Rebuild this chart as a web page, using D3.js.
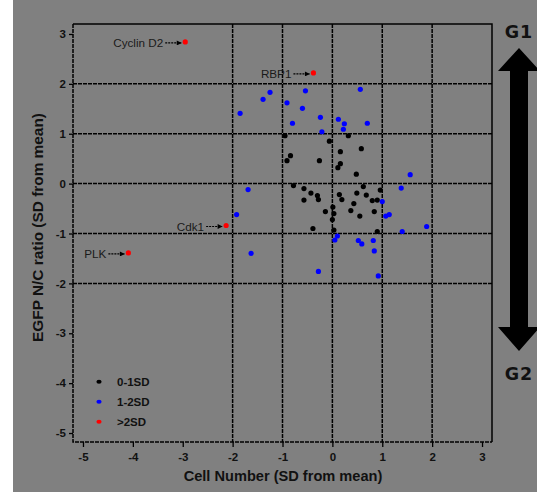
<!DOCTYPE html>
<html>
<head>
<meta charset="utf-8">
<script src="https://cdn.jsdelivr.net/npm/d3@7"></script>
<style>
  body { margin: 0; background: #fff; }
  svg { display: block; font-family: Arial, "Liberation Sans", sans-serif; }
</style>
</head>
<body>
<div id="cell-scatter"></div>
<script>

// data (SD from mean)
const blackX = [-0.95, -0.06, -0.84, -0.91, -0.26, 0.32, 0.58, 0.16, 0.16, 0.11, 0.48, -0.78, -0.57, -0.43, -0.30, -0.57, -0.28, -0.14, 0.01, 0.03, -0.39, 0.62, 0.14, 0.49, 0.68, 0.96, 0.19, 0.43, 0.80, 0.90, 0.37, 0.55, 0.84, 0.00, 0.03, 0.90]
const blackY = [0.96, 0.85, 0.56, 0.46, 0.46, 0.96, 0.70, 0.64, 0.40, 0.32, 0.19, -0.04, -0.10, -0.19, -0.24, -0.33, -0.32, -0.56, -0.47, -0.60, -0.90, -0.06, -0.22, -0.19, -0.23, -0.13, -0.32, -0.40, -0.34, -0.33, -0.54, -0.65, -0.56, -0.72, -0.93, -0.96]

const blueX = [-1.25, -1.39, -1.85, -0.54, -0.91, -0.60, -0.24, -0.80, -0.21, 0.56, 0.12, 0.24, 0.70, 0.22, 1.56, 1.38, -1.69, -1.92, -1.63, -0.28, 1.00, 1.07, 1.14, 1.89, 1.40, 0.10, 0.05, 0.52, 0.59, 0.82, 0.84, 0.92]
const blueY = [1.83, 1.69, 1.41, 1.86, 1.62, 1.51, 1.33, 1.21, 1.04, 1.89, 1.29, 1.20, 1.21, 1.09, 0.18, -0.09, -0.12, -0.62, -1.40, -1.76, -0.36, -0.65, -0.62, -0.86, -0.96, -1.05, -1.13, -1.14, -1.21, -1.14, -1.35, -1.85]

const redGenes = ["Cyclin D2", "RBP1", "Cdk1", "PLK"]
const redX = [-2.95, -0.38, -2.13, -4.09]
const redY = [2.84, 2.22, -0.84, -1.39]

const xTicks = [-5, -4, -3, -2, -1, 0, 1, 2, 3]
const yTicks = [-5, -4, -3, -2, -1, 0, 1, 2, 3]
const gridX = [-2, -1, 0, 1, 2]
const gridY = [-2, -1, 0, 1, 2]
const legendLabels = ["0-1SD", "1-2SD", ">2SD"]
const legendColors = ["#000000", "#0000ff", "#ff0000"]

function drawCellScatter() {

  // 1. accessors
  const xAccessor = d => d.x
  const yAccessor = d => d.y

  const blackDots = blackX.map((x, i) => ({ x: x, y: blackY[i] }))
  const blueDots = blueX.map((x, i) => ({ x: x, y: blueY[i] }))
  const redDots = redX.map((x, i) => ({ x: x, y: redY[i], name: redGenes[i] }))

  // 2. dimensions
  let dimensions = {
    width: 537,
    height: 492,
    margin: {
      top: 24,
      right: 45,
      bottom: 50,
      left: 73,
    },
  }
  dimensions.boundedWidth = dimensions.width - dimensions.margin.left - dimensions.margin.right
  dimensions.boundedHeight = dimensions.height - dimensions.margin.top - dimensions.margin.bottom

  // 3. canvas
  const wrapper = d3.select("#cell-scatter")
    .append("svg")
      .attr("width", dimensions.width)
      .attr("height", dimensions.height)

  // grey panel with the white strip on the left
  wrapper.append("rect")
    .attr("x", 13)
    .attr("y", 0)
    .attr("width", dimensions.width - 13)
    .attr("height", dimensions.height)
    .attr("fill", "#808080")

  const bounds = wrapper.append("g")
    .attr("transform", `translate(${dimensions.margin.left}, ${dimensions.margin.top})`)

  // 4. scales
  const xScale = d3.scaleLinear()
    .domain([-5.2, 3.2])
    .range([0, dimensions.boundedWidth])

  const yScale = d3.scaleLinear()
    .domain([-5.18, 3.2])
    .range([dimensions.boundedHeight, 0])

  // 5. grid + frame
  const dash = "4,1"

  bounds.selectAll(".grid-x")
    .data(gridX)
    .join("line")
      .attr("x1", d => xScale(d))
      .attr("x2", d => xScale(d))
      .attr("y1", 0)
      .attr("y2", dimensions.boundedHeight)
      .attr("stroke", "#000")
      .attr("stroke-width", 1.5)
      .attr("stroke-dasharray", dash)

  bounds.selectAll(".grid-y")
    .data(gridY)
    .join("line")
      .attr("x1", 0)
      .attr("x2", dimensions.boundedWidth)
      .attr("y1", d => yScale(d))
      .attr("y2", d => yScale(d))
      .attr("stroke", "#000")
      .attr("stroke-width", 1.5)
      .attr("stroke-dasharray", dash)

  // top and right edges are solid, left and bottom dashed
  bounds.append("path")
    .attr("d", `M0,0H${dimensions.boundedWidth}V${dimensions.boundedHeight}`)
    .attr("fill", "none")
    .attr("stroke", "#000")
    .attr("stroke-width", 1.5)
  bounds.append("path")
    .attr("d", `M0,0V${dimensions.boundedHeight}H${dimensions.boundedWidth}`)
    .attr("fill", "none")
    .attr("stroke", "#000")
    .attr("stroke-width", 1.5)
    .attr("stroke-dasharray", dash)

  // 6. dots
  function drawDots(dataset, color, r) {
    bounds.append("g")
      .selectAll("circle")
      .data(dataset)
      .join("circle")
        .attr("cx", d => xScale(xAccessor(d)))
        .attr("cy", d => yScale(yAccessor(d)))
        .attr("r", r)
        .attr("fill", color)
  }

  drawDots(blackDots, legendColors[0], 2.6)
  drawDots(blueDots, legendColors[1], 2.6)
  drawDots(redDots, legendColors[2], 2.6)

  // gene labels with little dashed arrows
  wrapper.append("defs").append("marker")
      .attr("id", "arrowhead")
      .attr("viewBox", "0 0 10 10")
      .attr("refX", 9)
      .attr("refY", 5)
      .attr("markerWidth", 6)
      .attr("markerHeight", 5)
      .attr("markerUnits", "userSpaceOnUse")
      .attr("orient", "auto")
    .append("path")
      .attr("d", "M0,0L10,5L0,10Z")
      .attr("fill", "#000")

  const notes = bounds.append("g")
    .selectAll("g")
    .data(redDots)
    .join("g")
      .attr("transform", d => `translate(${xScale(xAccessor(d))}, ${yScale(yAccessor(d))})`)

  notes.append("line")
    .attr("x1", -20)
    .attr("x2", -4)
    .attr("y1", 1)
    .attr("y2", 1)
    .attr("stroke", "#000")
    .attr("stroke-width", 1.2)
    .attr("stroke-dasharray", "2,1")
    .attr("marker-end", "url(#arrowhead)")

  notes.append("text")
    .attr("x", -22)
    .attr("y", 5.5)
    .attr("text-anchor", "end")
    .attr("fill", "#1a1a1a")
    .style("font-size", "11.7px")
    .text(d => d.name)

  // 7. axes
  const xAxisGenerator = d3.axisBottom()
    .scale(xScale)
    .tickValues(xTicks)
    .tickSize(5)
    .tickPadding(6)
    .tickFormat(d => String(d))

  const xAxis = bounds.append("g")
    .call(xAxisGenerator)
      .attr("transform", `translate(0, ${dimensions.boundedHeight})`)

  const yAxisGenerator = d3.axisLeft()
    .scale(yScale)
    .tickValues(yTicks)
    .tickSize(4)
    .tickPadding(3)
    .tickFormat(d => String(d))

  const yAxis = bounds.append("g")
    .call(yAxisGenerator)

  ;[xAxis, yAxis].forEach(axis => {
    axis.select(".domain").remove()
    axis.selectAll(".tick line").attr("stroke", "#000").attr("stroke-width", 1.3)
    axis.selectAll(".tick text")
      .attr("fill", "#111")
      .style("font-size", "11.5px")
      .style("font-weight", "bold")
      .style("font-family", "Arial, 'Liberation Sans', sans-serif")
  })

  wrapper.append("text")
    .attr("x", 283)
    .attr("y", 481)
    .attr("text-anchor", "middle")
    .attr("fill", "#111")
    .style("font-size", "14.6px")
    .style("font-weight", "bold")
    .text("Cell Number (SD from mean)")

  wrapper.append("text")
    .attr("transform", "translate(43, 227.5) rotate(-90)")
    .attr("text-anchor", "middle")
    .attr("fill", "#111")
    .style("font-size", "15.4px")
    .style("font-weight", "bold")
    .text("EGFP N/C ratio (SD from mean)")

  // 8. legend
  const legend = wrapper.append("g")
    .selectAll("g")
    .data(legendLabels)
    .join("g")
      .attr("transform", (d, i) => `translate(99, ${381.7 + i * 20})`)

  legend.append("ellipse")
    .attr("rx", 2.6)
    .attr("ry", 2)
    .attr("fill", (d, i) => legendColors[i])

  legend.append("text")
    .attr("x", 18)
    .attr("dy", "0.36em")
    .attr("fill", "#111")
    .style("font-size", "11.5px")
    .style("font-weight", "bold")
    .text(d => d)

  // 9. G1 / G2 arrow on the right
  wrapper.append("path")
    .attr("d", "M519,48L540,71H528V327H540L519,351L498,327H510V71H498Z")
    .attr("fill", "#000")

  wrapper.append("text")
    .attr("x", 519)
    .attr("y", 38.3)
    .attr("text-anchor", "middle")
    .attr("fill", "#111")
    .style("font-family", "'DejaVu Sans', sans-serif")
    .style("font-size", "17.5px")
    .style("font-weight", "bold")
    .style("letter-spacing", "1px")
    .text("G1")

  wrapper.append("text")
    .attr("x", 519)
    .attr("y", 380)
    .attr("text-anchor", "middle")
    .attr("fill", "#111")
    .style("font-family", "'DejaVu Sans', sans-serif")
    .style("font-size", "17.5px")
    .style("font-weight", "bold")
    .style("letter-spacing", "1px")
    .text("G2")
}

drawCellScatter()
</script>
</body>
</html>
